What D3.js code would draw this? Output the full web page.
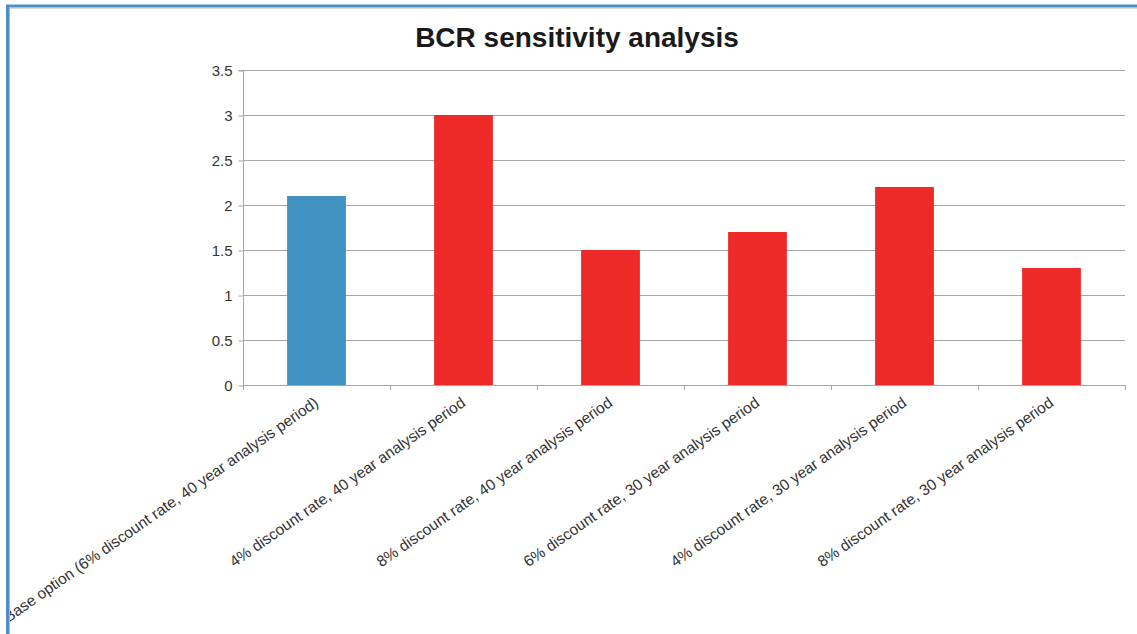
<!DOCTYPE html>
<html>
<head>
<meta charset="utf-8">
<script src="https://cdn.jsdelivr.net/npm/d3@7"></script>
<style>
  html, body { margin: 0; padding: 0; background: #fff; }
  svg { display: block; }
</style>
</head>
<body>
<svg id="chart" width="1137" height="634"></svg>
<script>
// Scenario labels and benefit-cost ratios
const categories = [
  "Base option (6% discount rate, 40 year analysis period)",
  "4% discount rate, 40 year analysis period",
  "8% discount rate, 40 year analysis period",
  "6% discount rate, 30 year analysis period",
  "4% discount rate, 30 year analysis period",
  "8% discount rate, 30 year analysis period"
];
const bcrValues = [2.1, 3.0, 1.5, 1.7, 2.2, 1.3];
const yTicks = [0, 0.5, 1, 1.5, 2, 2.5, 3, 3.5];
const yTickLabels = ["0", "0.5", "1", "1.5", "2", "2.5", "3", "3.5"];

const svg = d3.select("#chart");
const W = 1137, H = 634;
const plot = { left: 243, right: 1125, top: 70, bottom: 385 };

// Title
svg.append("text")
  .attr("x", 577).attr("y", 47)
  .attr("text-anchor", "middle")
  .attr("font-family", "Liberation Sans, Arial, sans-serif")
  .attr("font-weight", "bold")
  .attr("font-size", 28)
  .attr("fill", "#1a1a1a")
  .text("BCR sensitivity analysis");

const x = d3.scaleBand().domain(categories).range([plot.left, plot.right]).padding(0);
const y = d3.scaleLinear().domain([0, 3.5]).range([plot.bottom, plot.top]);

// Horizontal gridlines
svg.append("g")
  .selectAll("line")
  .data(yTicks.filter(d => d > 0))
  .join("line")
  .attr("x1", plot.left).attr("x2", plot.right)
  .attr("y1", d => Math.round(y(d)) + 0.5).attr("y2", d => Math.round(y(d)) + 0.5)
  .attr("stroke", "#a6a6a6").attr("stroke-width", 1);

// Y axis
const yAxis = d3.axisLeft(y)
  .tickValues(yTicks)
  .tickFormat((d, i) => yTickLabels[i])
  .tickSize(5).tickPadding(6);
const gy = svg.append("g")
  .attr("transform", `translate(${plot.left + 0.5},0.5)`)
  .call(yAxis);
gy.select(".domain").attr("stroke", "#a6a6a6").attr("d", `M-5,${plot.top}H0V${plot.bottom}`);
gy.selectAll(".tick line").attr("stroke", "#a6a6a6");
gy.selectAll(".tick text")
  .attr("font-family", "Liberation Sans, Arial, sans-serif")
  .attr("font-size", 15)
  .attr("fill", "#333");

// Bars
const barW = x.bandwidth() * 0.4;
svg.append("g")
  .selectAll("rect")
  .data(categories)
  .join("rect")
  .attr("x", (d) => x(d) + (x.bandwidth() - barW) / 2)
  .attr("y", (d, i) => y(bcrValues[i]))
  .attr("width", barW)
  .attr("height", (d, i) => y(0) - y(bcrValues[i]))
  .attr("fill", (d, i) => i === 0 ? "#4292c2" : "#ee2a29");

// X axis line and boundary ticks
const gx = svg.append("g");
gx.append("line")
  .attr("x1", plot.left).attr("x2", plot.right)
  .attr("y1", plot.bottom + 0.5).attr("y2", plot.bottom + 0.5)
  .attr("stroke", "#a6a6a6");
const bounds = categories.map(c => x(c)).concat([plot.right]);
gx.selectAll("line.tk")
  .data(bounds)
  .join("line")
  .attr("class", "tk")
  .attr("x1", d => Math.round(d) + 0.5).attr("x2", d => Math.round(d) + 0.5)
  .attr("y1", plot.bottom).attr("y2", plot.bottom + 5)
  .attr("stroke", "#a6a6a6");

// Rotated category labels
gx.selectAll("text")
  .data(categories)
  .join("text")
  .attr("transform", d => `translate(${x(d) + x.bandwidth() / 2 + 3},${plot.bottom + 20}) rotate(-35)`)
  .attr("text-anchor", "end")
  .attr("font-family", "Liberation Sans, Arial, sans-serif")
  .attr("font-size", 15.5)
  .attr("fill", "#333")
  .text(d => d);

// Outer frame, drawn last so it clips anything running past the left edge
svg.append("rect")
  .attr("x", 0).attr("y", 0)
  .attr("width", 6).attr("height", H)
  .attr("fill", "#fff");
svg.append("rect")
  .attr("x", 7.5).attr("y", 6)
  .attr("width", W + 20).attr("height", H + 20)
  .attr("fill", "none")
  .attr("stroke", "#4a8fc5").attr("stroke-width", 3);
svg.append("path")
  .attr("d", `M9.5,${H + 10} V8 H${W + 10}`)
  .attr("fill", "none")
  .attr("stroke", "#b8b8b8").attr("stroke-width", 1);
</script>
</body>
</html>
